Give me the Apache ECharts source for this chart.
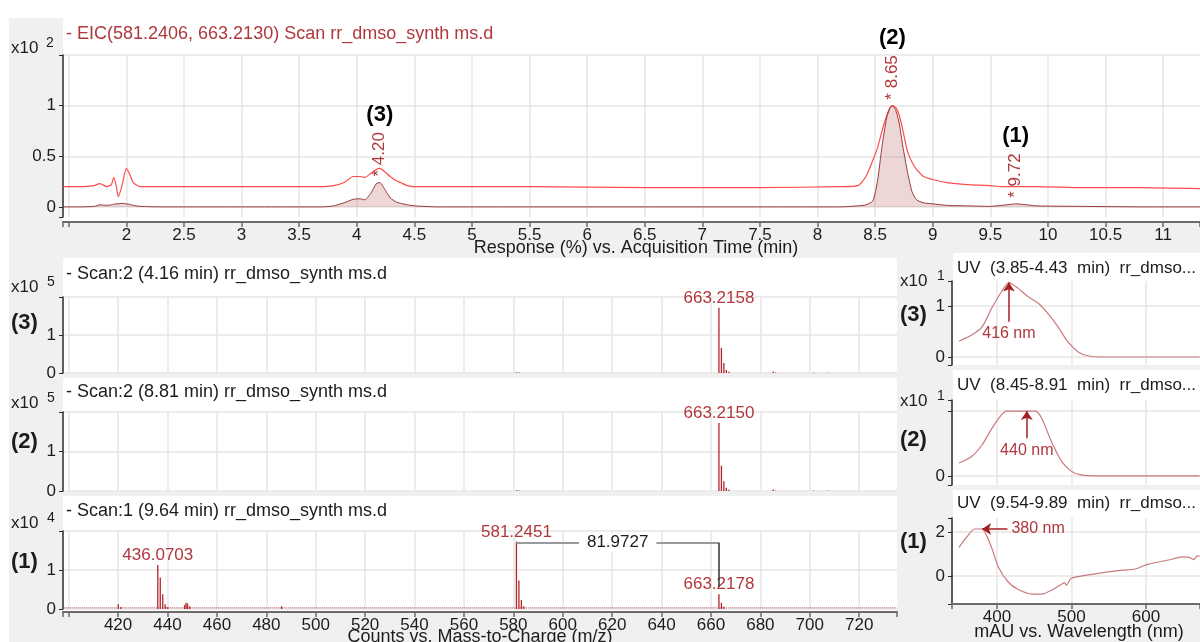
<!DOCTYPE html>
<html>
<head>
<meta charset="utf-8">
<title>EIC / MS / UV</title>
<script src="https://cdn.jsdelivr.net/npm/echarts@6.0.0/dist/echarts.min.js"></script>
<style>
  html, body { margin: 0; padding: 0; background: #fff; }
  #chart { width: 1200px; height: 642px; }
</style>
</head>
<body>
<div id="chart"></div>
<script>
// ---- EIC chromatogram (x10^2), response vs. acquisition time (min) ----
const eicTime = [1.45, 1.6, 1.72, 1.77, 1.83, 1.87, 1.89, 1.91, 1.93, 1.96, 2.0, 2.03, 2.06, 2.12, 2.3, 2.6, 3.0, 3.4, 3.7, 3.8,
  3.89, 3.97, 4.03, 4.07, 4.12, 4.17, 4.2, 4.24, 4.29, 4.34, 4.38, 4.44, 4.5, 4.7, 5.5, 6.5, 7.5, 8.2, 8.35, 8.42,
  8.48, 8.52, 8.56, 8.6, 8.63, 8.65, 8.68, 8.71, 8.74, 8.78, 8.82, 8.86, 8.92, 9.0, 9.12, 9.3, 9.5, 9.6, 9.68, 9.72,
  9.78, 9.9, 10.3, 10.8, 11.32];
// light red scan trace
const eicScan = [0.2, 0.2, 0.21, 0.23, 0.2, 0.22, 0.29, 0.22, 0.1, 0.2, 0.38, 0.32, 0.24, 0.2, 0.2, 0.2, 0.2, 0.2, 0.2, 0.21,
  0.24, 0.3, 0.3, 0.29, 0.33, 0.37, 0.38, 0.35, 0.3, 0.26, 0.24, 0.21, 0.2, 0.2, 0.2, 0.19, 0.19, 0.2, 0.21, 0.3,
  0.46, 0.58, 0.75, 0.9, 0.98, 1.0, 0.98, 0.9, 0.76, 0.55, 0.44, 0.37, 0.3, 0.27, 0.24, 0.22, 0.21, 0.2, 0.2, 0.2,
  0.2, 0.2, 0.19, 0.19, 0.18];
// integrated (filled) trace
const eicArea = [0, 0, 0.005, 0.02, 0.015, 0.02, 0.025, 0.03, 0.03, 0.035, 0.03, 0.025, 0.015, 0.005, 0, 0, 0, 0, 0, 0.01,
  0.04, 0.075, 0.08, 0.07, 0.13, 0.23, 0.24, 0.18, 0.09, 0.05, 0.035, 0.02, 0.01, 0, 0, 0, 0, 0, 0.01, 0.02,
  0.06, 0.25, 0.6, 0.88, 0.98, 1.0, 0.95, 0.82, 0.6, 0.35, 0.15, 0.07, 0.04, 0.03, 0.015, 0.01, 0.005, 0.015, 0.025, 0.03,
  0.025, 0.01, 0.005, 0, 0];
const peakTimes = [4.20, 8.65, 9.72];
const peakApex = [0.24, 1.0, 0.03];
const peakTags = ["(3)", "(2)", "(1)"];
const timeTicks = [2, 2.5, 3, 3.5, 4, 4.5, 5, 5.5, 6, 6.5, 7, 7.5, 8, 8.5, 9, 9.5, 10, 10.5, 11];
const eicYTicks = [0, 0.5, 1];

// ---- MS spectra ----
const msTitles = ["- Scan:2 (4.16 min) rr_dmso_synth ms.d", "- Scan:2 (8.81 min) rr_dmso_synth ms.d", "- Scan:1 (9.64 min) rr_dmso_synth ms.d"];
const msExponents = ["5", "5", "4"];
const ms3Mz = [581.3, 582.3, 663.2158, 664.22, 665.22, 666.22, 667.23, 685.2, 686.2, 701.5, 707.2];
const ms3Counts = [0.02, 0.01, 1.72, 0.66, 0.26, 0.08, 0.03, 0.03, 0.015, 0.01, 0.01];
const ms2Mz = [581.3, 582.3, 663.2150, 664.22, 665.22, 666.22, 667.23, 685.2, 686.2, 701.5, 707.2];
const ms2Counts = [0.02, 0.01, 1.72, 0.64, 0.25, 0.08, 0.03, 0.04, 0.015, 0.01, 0.01];
const ms1Mz = [420.1, 421.1, 436.0703, 437.07, 438.07, 439.07, 440.1, 446.9, 447.5, 448.1, 449.0, 486.2,
  581.2451, 582.25, 583.25, 584.25, 663.2178, 664.22, 665.22];
const ms1Counts = [0.12, 0.05, 1.13, 0.81, 0.38, 0.12, 0.05, 0.1, 0.16, 0.14, 0.07, 0.07,
  1.73, 0.73, 0.23, 0.07, 0.38, 0.16, 0.06];
const ms1NoiseMz = [398, 735];
const ms1Noise = [0.03, 0.03];
const msLabelled = [[663.2158], [663.2150], [436.0703, 581.2451, 663.2178]];
const mzTicks = [420, 440, 460, 480, 500, 520, 540, 560, 580, 600, 620, 640, 660, 680, 700, 720];
const msYTicks = [0, 1];

// ---- UV spectra ----
const uvTitles = ["UV  (3.85-4.43  min)  rr_dmso...", "UV  (8.45-8.91  min)  rr_dmso...", "UV  (9.54-9.89  min)  rr_dmso..."];
const uv3Nm = [349, 366, 380, 393, 406, 416, 428, 442, 455, 468, 482, 495, 509, 522, 540, 580, 620, 672];
const uv3 = [0.31, 0.43, 0.59, 0.96, 1.28, 1.46, 1.35, 1.18, 1.06, 0.86, 0.59, 0.3, 0.1, 0.025, 0, 0, 0, 0];
const uv2Nm = [349, 366, 380, 393, 406, 413, 430, 451, 460, 473, 487, 500, 513, 530, 580, 672];
const uv2 = [0.2, 0.3, 0.48, 0.73, 0.94, 1.0, 1.0, 1.0, 0.89, 0.53, 0.22, 0.07, 0.015, 0, 0, 0];
const uv1Nm = [349, 360, 370, 380, 386, 393, 402, 415, 428, 447, 460, 474, 487, 491, 493, 500, 532, 568, 585, 603,
  630, 649, 655, 660, 664, 668, 672];
const uv1 = [1.3, 1.8, 2.14, 2.14, 1.85, 1.27, 0.4, -0.27, -0.6, -0.82, -0.82, -0.63, -0.36, -0.3, -0.42, -0.1, 0.1, 0.27, 0.32, 0.54,
  0.73, 0.87, 0.86, 0.82, 0.75, 0.9, 0.92];
const uvPeakNm = [416, 440, 380];
const nmTicks = [400, 500, 600];
const uv3YTicks = [0, 1];
const uv2YTicks = [0];
const uv1YTicks = [0, 2];

const FONT = '"Liberation Sans", Arial, Helvetica, sans-serif';
const RED = "#b0383c";
const INK = "#1c1c1c";
const GRID_LINE = "#e6e6e6";

const pairs = (xs, ys) => xs.map((x, i) => [x, ys[i]]);
const near = (list, v) => list.some((t) => Math.abs(t - v) < 1e-6);
const tickFmt = (list) => (v) => (near(list, v) ? String(+(+v).toFixed(2)) : "");
const onStep = (v, step) => Math.abs(v / step - Math.round(v / step)) < 1e-6;

function xAxis(gridIndex, min, max, step, ticks, labels, offset) {
	return {
		type: "value", gridIndex, min, max, minInterval: step, maxInterval: step,
		offset: offset || 0,
		axisLine: { show: labels, onZero: false, lineStyle: { color: "#6b6b6b", width: 2 } },
		axisTick: { show: labels, length: 5, lineStyle: { color: "#6b6b6b", width: 1.5 } },
		axisLabel: { show: labels, color: INK, fontFamily: FONT, fontSize: 17, margin: 5, formatter: tickFmt(ticks) },
		splitLine: { show: true, showMinLine: false, showMaxLine: false, lineStyle: { color: GRID_LINE, width: 1.5 } },
	};
}
function yAxis(gridIndex, min, max, step, ticks) {
	return {
		type: "value", gridIndex, min, max, minInterval: step, maxInterval: step,
		axisLine: { show: true, onZero: false, lineStyle: { color: "#2a2a2a", width: 1.5 } },
		axisTick: { show: true, length: 4, lineStyle: { color: "#2a2a2a" } },
		axisLabel: { color: INK, fontFamily: FONT, fontSize: 17, margin: 7, formatter: tickFmt(ticks) },
		splitLine: {
			show: true, showMinLine: onStep(min, step), showMaxLine: onStep(max, step),
			lineStyle: { color: GRID_LINE, width: 1.5 },
		},
	};
}

// stick spectrum, with labels on the annotated peaks
function msSeries(idx, mz, counts, labelled) {
	return {
		type: "bar", xAxisIndex: idx, yAxisIndex: idx, barWidth: 1.3,
		itemStyle: { color: "#b3242a" },
		data: mz.map((m, i) => ({
			value: [m, counts[i]],
			label: near(labelled, m)
				? { show: true, position: "top", distance: 1, formatter: m.toFixed(4), color: RED, fontSize: 17, fontFamily: FONT }
				: { show: false },
		})),
	};
}

// UV trace with an arrow pointing at its maximum
function uvSeries(idx, nm, vals, from, to) {
	return {
		type: "line", xAxisIndex: idx, yAxisIndex: idx, showSymbol: false, smooth: 0.25,
		lineStyle: { color: "#c97a7c", width: 1.2 }, itemStyle: { color: "#c97a7c" },
		data: pairs(nm, vals),
		markLine: {
			silent: true, animation: false, symbol: ["none", "arrow"], symbolSize: 9,
			lineStyle: { color: "#a31f23", width: 1.5, type: "solid" },
			label: { show: true, position: "start", distance: 4, color: RED, fontSize: 16, fontFamily: FONT },
			data: [[{ coord: from, label: { formatter: to[0] + " nm" } }, { coord: to }]],
		},
	};
}

const rect = (x, y, w, h, fill, z) => ({ type: "rect", silent: true, z, shape: { x, y, width: w, height: h }, style: { fill } });
const text = (str, x, y, o = {}) => ({
	type: "text", silent: true, z: 10, x, y,
	style: {
		text: str, fill: o.fill || INK,
		font: `${o.bold ? "bold " : ""}${o.size || 17}px ${FONT}`,
		textAlign: o.align || "left", align: o.align || "left",
		textVerticalAlign: "middle", verticalAlign: "middle",
	},
});

const msTitleY = [274, 392, 511];
const msTagY = [323, 442, 562];
const msX10Y = [287, 403, 523];
const uvTitleY = [268, 385, 503];
const uvTagY = [315, 440, 542];

const graphic = [
	rect(9, 18, 1191, 624, "#f0f0f0", -20),
	rect(63, 18, 1137, 204, "#fff", -10),
	rect(63, 258, 834, 115, "#fff", -10),
	rect(63, 378, 834, 114, "#fff", -10),
	rect(63, 496, 834, 116, "#fff", -10),
	rect(953, 253, 247, 112, "#fff", -10),
	rect(953, 370, 247, 115, "#fff", -10),
	rect(953, 490, 247, 114, "#fff", -10),
	text("- EIC(581.2406, 663.2130) Scan rr_dmso_synth ms.d", 66, 34, { fill: RED, size: 18 }),
	text("x10", 11, 48), text("2", 46, 43, { size: 14 }),
	text("Response (%) vs. Acquisition Time (min)", 636, 248, { align: "center", size: 18 }),
	text("Counts vs. Mass-to-Charge (m/z)", 480, 637, { align: "center", size: 18 }),
	text("mAU vs. Wavelength (nm)", 1079, 632, { align: "center", size: 18 }),
	text("x10", 900, 281), text("1", 937, 276, { size: 14 }),
	text("x10", 900, 401), text("1", 937, 396, { size: 14 }),
];
msTitles.forEach((t, i) => {
	graphic.push(text(t, 66, msTitleY[i], { size: 18 }));
	graphic.push(text("x10", 11, msX10Y[i]), text(msExponents[i], 47, msX10Y[i] - 5, { size: 14 }));
	graphic.push(text(peakTags[i], 11, msTagY[i], { bold: true, size: 22 }));
});
uvTitles.forEach((t, i) => {
	graphic.push(text(t, 957, uvTitleY[i]));
	graphic.push(text(peakTags[i], 900, uvTagY[i], { bold: true, size: 22 }));
});

const grids = [
	{ left: 63, top: 55, width: 1137, height: 162 },
	{ left: 63, top: 297, width: 834, height: 76 },
	{ left: 63, top: 412, width: 834, height: 79 },
	{ left: 63, top: 531, width: 834, height: 78 },
	{ left: 952, top: 281, width: 248, height: 84 },
	{ left: 952, top: 400, width: 248, height: 85 },
	{ left: 952, top: 518, width: 248, height: 86 },
].map((g) => ({ ...g, containLabel: false, outerBoundsMode: "none" }));

const chart = echarts.init(document.getElementById("chart"), null, { renderer: "canvas" });
chart.setOption({
	animation: false,
	backgroundColor: "#fff",
	textStyle: { fontFamily: FONT },
	grid: grids,
	graphic,
	xAxis: [
		xAxis(0, 1.45, 11.32, 0.5, timeTicks, true, 5),
		xAxis(1, 397.7, 735.3, 20, mzTicks, false),
		xAxis(2, 397.7, 735.3, 20, mzTicks, false),
		xAxis(3, 397.7, 735.3, 20, mzTicks, true, 3),
		xAxis(4, 339.6, 672.5, 100, nmTicks, false),
		xAxis(5, 339.6, 672.5, 100, nmTicks, false),
		xAxis(6, 339.6, 672.5, 100, nmTicks, true),
	],
	yAxis: [
		yAxis(0, -0.1, 1.5, 0.5, eicYTicks),
		yAxis(1, 0, 2, 1, msYTicks),
		yAxis(2, 0, 2, 1, msYTicks),
		yAxis(3, 0, 2, 1, msYTicks),
		yAxis(4, -0.157, 1.49, 1, uv3YTicks),
		yAxis(5, -0.14, 1.17, 1, uv2YTicks),
		yAxis(6, -1.27, 2.64, 2, uv1YTicks),
	],
	series: [
		{
			name: "scan", type: "line", xAxisIndex: 0, yAxisIndex: 0, showSymbol: false, smooth: 0.2,
			lineStyle: { color: "#ff4b4b", width: 1.2 },
			data: pairs(eicTime, eicScan),
		},
		{
			name: "integrated", type: "line", xAxisIndex: 0, yAxisIndex: 0, showSymbol: false, smooth: 0.2,
			lineStyle: { color: "#9a3a3c", width: 1 },
			areaStyle: { color: "rgba(175,85,88,0.35)" },
			data: pairs(eicTime, eicArea),
			markPoint: {
				symbol: "circle", symbolSize: 0, silent: true, animation: false,
				data: peakTimes.flatMap((t, i) => [
					{
						coord: [t, peakApex[i]],
						label: { show: true, formatter: "* " + t.toFixed(2), rotate: 90, position: [0, -6],
							align: "left", verticalAlign: "middle", color: RED, fontSize: 17, fontFamily: FONT },
					},
					{
						coord: [t, peakApex[i]],
						label: { show: true, formatter: peakTags[i], position: [0, -68], align: "center",
							verticalAlign: "middle", color: "#000", fontSize: 22, fontWeight: "bold", fontFamily: FONT },
					},
				]),
			},
		},
		msSeries(1, ms3Mz, ms3Counts, msLabelled[0]),
		msSeries(2, ms2Mz, ms2Counts, msLabelled[1]),
		{
			...msSeries(3, ms1Mz, ms1Counts, msLabelled[2]),
			markLine: {
				silent: true, animation: false, symbol: "none",
				data: [
					[
						{
							coord: [msLabelled[2][1], 1.7],
							lineStyle: { color: "#9a9a9a", width: 2, type: "solid" },
							label: { show: true, position: "insideMiddle", formatter: (msLabelled[2][2] - msLabelled[2][1]).toFixed(4),
								backgroundColor: "#fff", padding: [0, 8], color: INK, fontSize: 17, fontFamily: FONT },
						},
						{ coord: [msLabelled[2][2], 1.7] },
					],
					[
						{ coord: [msLabelled[2][2], 1.7], lineStyle: { color: "#333", width: 1.5, type: "solid" }, label: { show: false } },
						{ coord: [msLabelled[2][2], 0.57] },
					],
				],
			},
		},
		{
			type: "line", xAxisIndex: 3, yAxisIndex: 3, showSymbol: false,
			lineStyle: { color: "#b8474c", width: 1, type: "dotted" },
			data: pairs(ms1NoiseMz, ms1Noise),
		},
		uvSeries(4, uv3Nm, uv3, [uvPeakNm[0], 0.69], [uvPeakNm[0], 1.46]),
		uvSeries(5, uv2Nm, uv2, [uvPeakNm[1], 0.58], [uvPeakNm[1], 1.0]),
		uvSeries(6, uv1Nm, uv1, [414, 2.14], [uvPeakNm[2], 2.14]),
	],
});
</script>
</body>
</html>
